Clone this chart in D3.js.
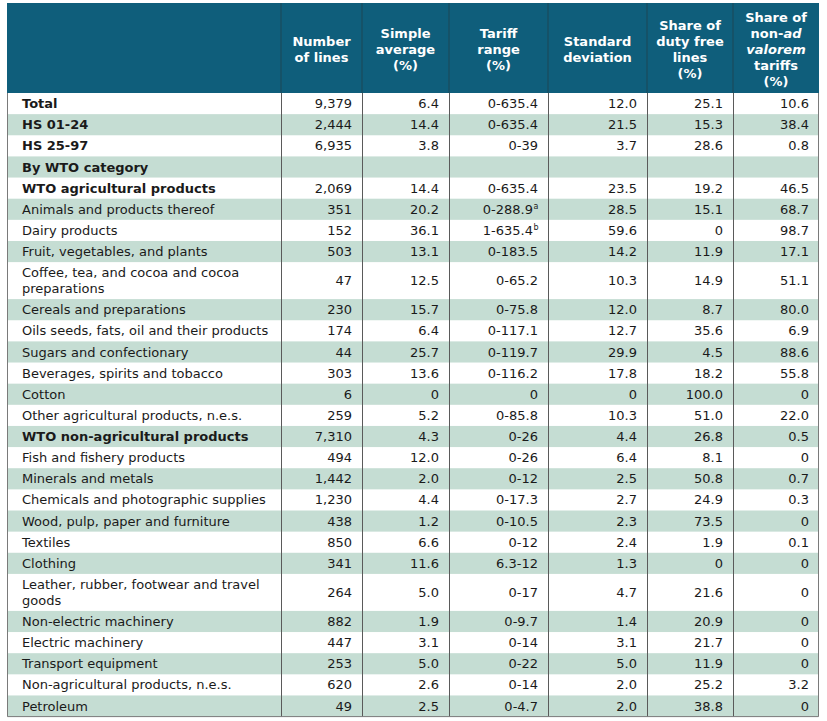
<!DOCTYPE html>
<html>
<head>
<meta charset="utf-8">
<script src="https://cdn.jsdelivr.net/npm/d3@7/dist/d3.min.js"></script>
<style>
  html, body { margin: 0; padding: 0; background: #ffffff; }
  svg { display: block; }
  text { font-family: "DejaVu Sans", Verdana, sans-serif; }
</style>
</head>
<body>
<div id="chart"></div>
<script>
// ---------- DATA ----------
const headers = [
  [""],
  ["Number", "of lines"],
  ["Simple", "average", "(%)"],
  ["Tariff", "range", "(%)"],
  ["Standard", "deviation"],
  ["Share of", "duty free", "lines", "(%)"],
  ["Share of", "non-|ad|", "|valorem|", "tariffs", "(%)"]
];

const labels = [
  "Total", "HS 01-24", "HS 25-97", "By WTO category", "WTO agricultural products",
  "Animals and products thereof", "Dairy products", "Fruit, vegetables, and plants",
  "Coffee, tea, and cocoa and cocoa\npreparations", "Cereals and preparations",
  "Oils seeds, fats, oil and their products", "Sugars and confectionary",
  "Beverages, spirits and tobacco", "Cotton", "Other agricultural products, n.e.s.",
  "WTO non-agricultural products", "Fish and fishery products", "Minerals and metals",
  "Chemicals and photographic supplies", "Wood, pulp, paper and furniture", "Textiles",
  "Clothing", "Leather, rubber, footwear and travel\ngoods", "Non-electric machinery",
  "Electric machinery", "Transport equipment", "Non-agricultural products, n.e.s.",
  "Petroleum"
];

const boldRows = ["Total", "HS 01-24", "HS 25-97", "By WTO category",
  "WTO agricultural products", "WTO non-agricultural products"];

const numberOfLines = ["9,379","2,444","6,935","","2,069","351","152","503","47","230","174","44","303","6","259","7,310","494","1,442","1,230","438","850","341","264","882","447","253","620","49"];
const simpleAverage = ["6.4","14.4","3.8","","14.4","20.2","36.1","13.1","12.5","15.7","6.4","25.7","13.6","0","5.2","4.3","12.0","2.0","4.4","1.2","6.6","11.6","5.0","1.9","3.1","5.0","2.6","2.5"];
const tariffRange = ["0-635.4","0-635.4","0-39","","0-635.4","0-288.9","1-635.4","0-183.5","0-65.2","0-75.8","0-117.1","0-119.7","0-116.2","0","0-85.8","0-26","0-26","0-12","0-17.3","0-10.5","0-12","6.3-12","0-17","0-9.7","0-14","0-22","0-14","0-4.7"];
const tariffNotes = ["","","","","","a","b","","","","","","","","","","","","","","","","","","","","",""];
const standardDeviation = ["12.0","21.5","3.7","","23.5","28.5","59.6","14.2","10.3","12.0","12.7","29.9","17.8","0","10.3","4.4","6.4","2.5","2.7","2.3","2.4","1.3","4.7","1.4","3.1","5.0","2.0","2.0"];
const dutyFreeShare = ["25.1","15.3","28.6","","19.2","15.1","0","11.9","14.9","8.7","35.6","4.5","18.2","100.0","51.0","26.8","8.1","50.8","24.9","73.5","1.9","0","21.6","20.9","21.7","11.9","25.2","38.8"];
const nonAdValoremShare = ["10.6","38.4","0.8","","46.5","68.7","98.7","17.1","51.1","80.0","6.9","88.6","55.8","0","22.0","0.5","0","0.7","0.3","0","0.1","0","0","0","0","0","3.2","0"];

// ---------- LAYOUT ----------
const W = 827, H = 721;
const colEdges = [7, 281, 362, 449, 548, 647, 733, 819];
const headerTop = 3, headerBottom = 93, tableBottom = 716.6;
const fontSize = 13, lineH = 16;
const headerColor = "#0f5e7b";
const stripeColor = "#c5ddd3";

const svg = d3.select("#chart").append("svg").attr("width", W).attr("height", H);

// row units
const units = labels.map(l => l.includes("\n") ? 1.75 : 1);
const starts = [];
let acc = 0;
units.forEach(u => { starts.push(acc); acc += u; });
const y = d3.scaleLinear().domain([0, acc]).range([headerBottom, tableBottom]);

const x = d3.scaleOrdinal().domain(d3.range(7)).range(colEdges.slice(0, 7));
const xEnd = i => colEdges[i + 1];

// header background
svg.append("rect").attr("x", colEdges[0]).attr("y", headerTop)
  .attr("width", colEdges[7] - colEdges[0]).attr("height", headerBottom - headerTop)
  .attr("fill", headerColor);

// header text
const hCenter = (headerTop + headerBottom) / 2 + 1;
headers.forEach((lines, ci) => {
  if (lines.length === 1 && lines[0] === "") return;
  const cx = (x(ci) + xEnd(ci)) / 2;
  const t = svg.append("text").attr("x", cx).attr("text-anchor", "middle")
    .attr("font-size", fontSize).attr("font-weight", "bold").attr("fill", "#ffffff");
  lines.forEach((ln, li) => {
    const yy = hCenter + (li - (lines.length - 1) / 2) * lineH;
    const ts = t.append("tspan").attr("x", cx).attr("y", yy).attr("dy", "0.35em");
    const parts = ln.split("|");
    parts.forEach((p, pi) => {
      if (p === "") return;
      ts.append("tspan").attr("font-style", pi % 2 === 1 ? "italic" : "normal").text(p);
    });
  });
});

// row stripes
const rows = svg.append("g");
labels.forEach((lab, ri) => {
  const y0 = y(starts[ri]), y1 = y(starts[ri] + units[ri]);
  if (ri % 2 === 1) {
    rows.append("rect").attr("x", colEdges[0]).attr("y", y0)
      .attr("width", colEdges[7] - colEdges[0]).attr("height", y1 - y0)
      .attr("fill", stripeColor);
  }
});

// row text
const cols = [numberOfLines, simpleAverage, tariffRange, standardDeviation, dutyFreeShare, nonAdValoremShare];
labels.forEach((lab, ri) => {
  const y0 = y(starts[ri]), y1 = y(starts[ri] + units[ri]);
  const cy = (y0 + y1) / 2;
  const isBold = boldRows.includes(lab);
  const lines = lab.split("\n");
  const t = svg.append("text").attr("font-size", fontSize).attr("fill", "#1a1a1a")
    .attr("font-weight", isBold ? "bold" : "normal");
  lines.forEach((ln, li) => {
    t.append("tspan").attr("x", x(0) + 15)
      .attr("y", cy + (li - (lines.length - 1) / 2) * lineH)
      .attr("dy", "0.35em").text(ln);
  });
  cols.forEach((arr, ci) => {
    const v = arr[ri];
    if (v === "") return;
    const note = ci === 2 ? tariffNotes[ri] : "";
    const endX = xEnd(ci + 1) - 10 - (note ? 5 : 0);
    svg.append("text").attr("x", endX).attr("y", cy)
      .attr("dy", "0.35em").attr("text-anchor", "end")
      .attr("font-size", fontSize).attr("fill", "#1a1a1a").text(v);
    if (note) {
      svg.append("text").attr("x", endX + 0.5).attr("y", cy - 0.5)
        .attr("font-size", 8).attr("fill", "#1a1a1a").text(note);
    }
  });
});

// vertical lines
const inner = colEdges.slice(1, 7);
svg.append("g").selectAll("line.h").data(inner).join("line")
  .attr("x1", d => d).attr("x2", d => d).attr("y1", headerTop).attr("y2", headerBottom)
  .attr("stroke", "#1d4656").attr("stroke-width", 1);
svg.append("g").selectAll("line.b").data(inner).join("line")
  .attr("x1", d => d + 0.5).attr("x2", d => d + 0.5).attr("y1", headerBottom).attr("y2", tableBottom)
  .attr("stroke", "#5a5a5a").attr("stroke-width", 1);

// outer border of body
svg.append("path")
  .attr("d", `M${colEdges[0] + 0.5},${headerBottom} V${tableBottom} H${colEdges[7] - 0.5} V${headerBottom}`)
  .attr("fill", "none").attr("stroke", "#7a7a7a").attr("stroke-width", 1);
</script>
</body>
</html>
